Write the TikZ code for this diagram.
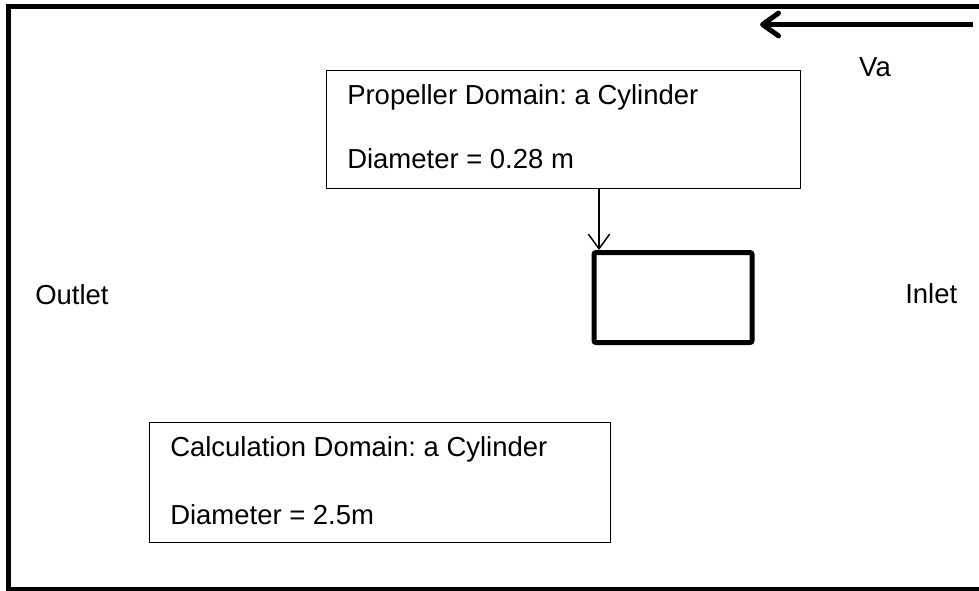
\documentclass[tikz,border=0pt]{standalone}
\usepackage{fontspec}
\setmainfont{Liberation Sans}
\usetikzlibrary{arrows.meta}

\begin{document}
\frenchspacing
\begin{tikzpicture}[x=0.75pt,y=-0.75pt,
    lbl/.style={inner sep=0pt, font=\fontsize{20.6}{24}\selectfont},
    infobox/.style={draw, line width=1.1pt, rectangle, inner sep=0pt, anchor=north west},
    heavybox/.style={draw, line width=3.75pt, rectangle, rounded corners=1.5pt, inner sep=0pt},
    flowarrow/.style={line width=3.75pt, -{Straight Barb[round, length=12pt, width=17pt]}},
    thinarrow/.style={line width=1.1pt, -{Straight Barb[length=11pt, width=16pt]}}]
  % page extent
  \useasboundingbox (0,0) rectangle (979,590);
  \clip (0,0) rectangle (979,590);

  % computational domain frame (right and bottom edges run off the page)
  \draw[line width=3.75pt] (8.5,6.5) rectangle (990,589.5);

  % free-stream velocity
  \coordinate (vaTail) at (973,24.5);
  \coordinate (vaHead) at (760,24.5);
  \draw[flowarrow] (vaTail) -- (vaHead);
  \node[lbl] (va) at (875,67) {Va};

  % propeller domain description
  \node[infobox, minimum width=474*0.75pt, minimum height=118*0.75pt] (prop) at (326,70) {};
  \node[lbl, anchor=west] (propA) at (347,97) {Propeller Domain: a Cylinder};
  \node[lbl, anchor=west] (propB) at (347,159) {Diameter = 0.28 m};

  % propeller cylinder
  \node[heavybox, minimum width=158*0.75pt, minimum height=90*0.75pt] (cyl) at (673,297.5) {};
  \coordinate (cylTop) at (599,250);
  \draw[thinarrow] (prop.south -| cylTop) -- (cylTop);

  % boundary names
  \node[lbl, anchor=west] (outlet) at (35,295) {Outlet};
  \node[lbl, anchor=west] (inlet) at (905,294) {Inlet};

  % calculation domain description
  \node[infobox, minimum width=461*0.75pt, minimum height=120*0.75pt] (calc) at (149,422) {};
  \node[lbl, anchor=west] (calcA) at (170,449) {Calculation Domain: a Cylinder};
  \node[lbl, anchor=west] (calcB) at (170,515) {Diameter = 2.5m};
\end{tikzpicture}
\end{document}
